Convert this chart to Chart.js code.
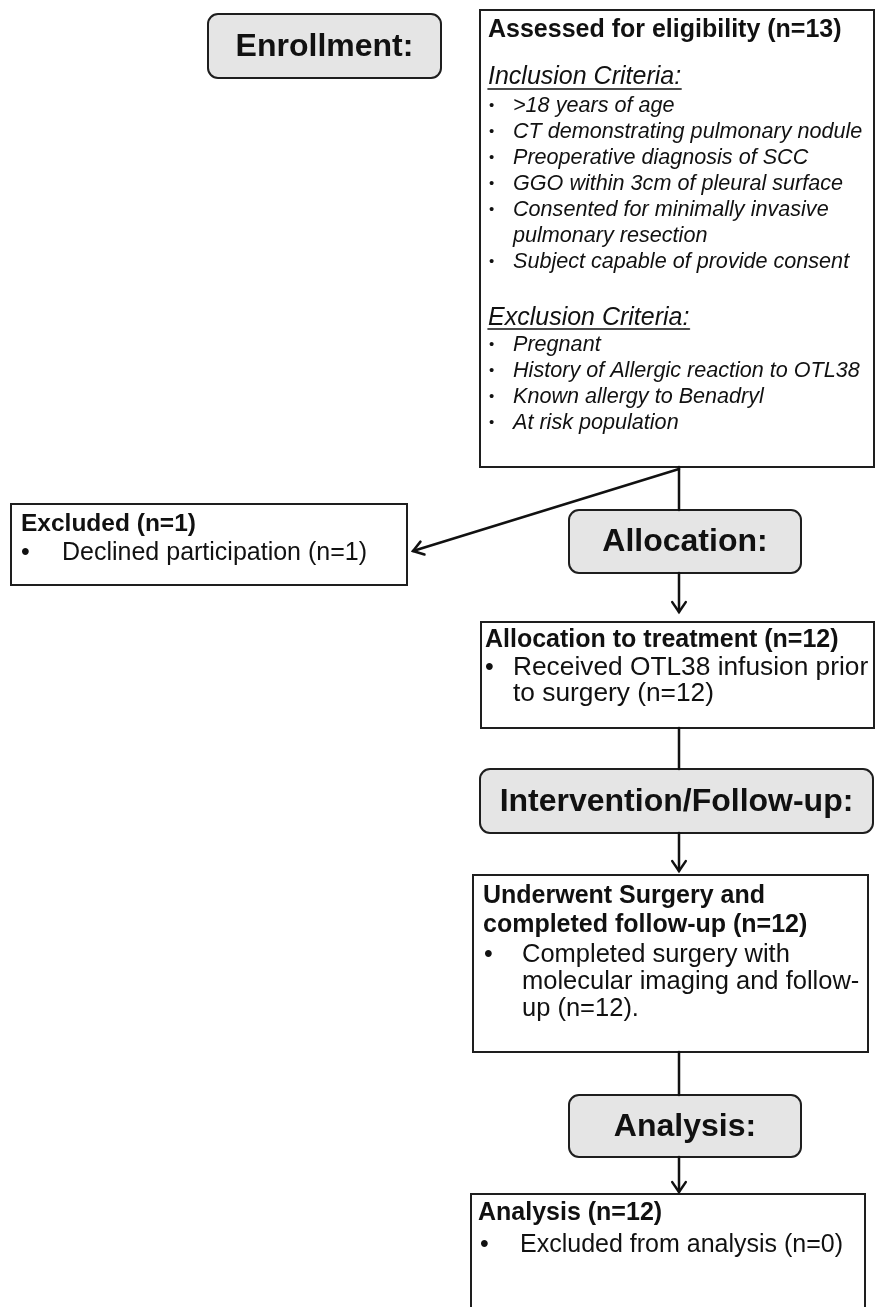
<!DOCTYPE html>
<html><head><meta charset="utf-8">
<script src="https://cdn.jsdelivr.net/npm/chart.js@4/dist/chart.umd.min.js"></script>
<style>html,body{margin:0;padding:0;background:#fff}canvas{display:block}</style>
</head><body>
<canvas id="c" width="876" height="1307"></canvas>
<script>
// ---- content (data) ----
const phaseLabels = ["Enrollment:", "Allocation:", "Intervention/Follow-up:", "Analysis:"];
const stageTitles = ["Assessed for eligibility", "Excluded", "Allocation to treatment", "Underwent Surgery and\ncompleted follow-up", "Analysis"];
const stageCounts = [13, 1, 12, 12, 12];
const inclusionCriteria = [">18 years of age", "CT demonstrating pulmonary nodule", "Preoperative diagnosis of SCC", "GGO within 3cm of pleural surface", "Consented for minimally invasive\npulmonary resection", "Subject capable of provide consent"];
const exclusionCriteria = ["Pregnant", "History of Allergic reaction to OTL38", "Known allergy to Benadryl", "At risk population"];
const excludedReasons = ["Declined participation"];
const excludedReasonCounts = [1];
const allocationNotes = ["Received OTL38 infusion prior\nto surgery"];
const followUpNotes = ["Completed surgery with\nmolecular imaging and follow-\nup"];
const analysisNotes = ["Excluded from analysis"];
const analysisNoteCounts = [0];

// ---- layout (positions / styles) ----
const FONT = "'Liberation Sans', Arial, Helvetica, sans-serif";
const phaseBoxes = [[208,14,441,78],[569,510,801,573],[480,769,873,833],[569,1095,801,1157]];
const stageBoxes = [[480,10,874,467],[11,504,407,585],[481,622,874,728],[473,875,868,1052],[471,1194,865,1340]];
const connectors = [ // [x0,y0,x1,y1,arrow]
  [679,467,679,510,false],[679,469,413,551,true],[679,573,679,612,true],
  [679,728,679,769,false],[679,833,679,871,true],[679,1052,679,1095,false],[679,1157,679,1192,true]
];

const flowPlugin = {
  id: 'flow',
  afterDatasetsDraw(chart) {
    const {ctx, scales} = chart;
    const X = v => scales.x.getPixelForValue(v);
    const Y = v => scales.y.getPixelForValue(v);
    ctx.save();
    // phase boxes
    phaseBoxes.forEach((b, i) => {
      const x0 = X(b[0]), y0 = Y(b[1]), x1 = X(b[2]), y1 = Y(b[3]);
      ctx.beginPath();
      ctx.roundRect(x0, y0, x1 - x0, y1 - y0, 10);
      ctx.fillStyle = '#e5e5e5'; ctx.fill();
      ctx.lineWidth = 2; ctx.strokeStyle = '#1e1e1e'; ctx.stroke();
      ctx.fillStyle = '#111';
      ctx.font = 'bold 32px ' + FONT;
      ctx.textAlign = 'center'; ctx.textBaseline = 'middle';
      ctx.fillText(phaseLabels[i], (x0 + x1) / 2, (y0 + y1) / 2 + 1);
    });
    // stage boxes
    stageBoxes.forEach(b => {
      const x0 = X(b[0]), y0 = Y(b[1]), x1 = X(b[2]), y1 = Y(b[3]);
      ctx.fillStyle = '#fff';
      ctx.fillRect(x0, y0, x1 - x0, y1 - y0);
      ctx.lineWidth = 2; ctx.strokeStyle = '#1e1e1e';
      ctx.strokeRect(x0, y0, x1 - x0, y1 - y0);
    });
    // connectors
    ctx.strokeStyle = '#111'; ctx.lineWidth = 2.5; ctx.lineCap = 'round';
    connectors.forEach(c => {
      const x0 = X(c[0]), y0 = Y(c[1]), x1 = X(c[2]), y1 = Y(c[3]);
      ctx.beginPath(); ctx.moveTo(x0, y0); ctx.lineTo(x1, y1); ctx.stroke();
      if (c[4]) {
        const a = Math.atan2(y1 - y0, x1 - x0), L = 12, w = 0.6;
        ctx.beginPath();
        ctx.moveTo(x1 - L * Math.cos(a - w), y1 - L * Math.sin(a - w));
        ctx.lineTo(x1, y1);
        ctx.lineTo(x1 - L * Math.cos(a + w), y1 - L * Math.sin(a + w));
        ctx.stroke();
      }
    });
    // text helper
    ctx.textAlign = 'left'; ctx.textBaseline = 'middle'; ctx.fillStyle = '#111';
    const T = (s, x, y, font, underline) => {
      ctx.font = font + ' ' + FONT;
      ctx.fillText(s, X(x), Y(y));
      if (underline) {
        const w = ctx.measureText(s).width;
        ctx.lineWidth = 1.6; ctx.strokeStyle = '#111';
        ctx.beginPath(); ctx.moveTo(X(x), Y(y) + underline); ctx.lineTo(X(x) + w, Y(y) + underline); ctx.stroke();
      }
    };
    const bullets = (items, bx, tx, ys, font, bfont) => {
      let k = 0;
      items.forEach(it => {
        it.split('\n').forEach((ln, j) => {
          if (j === 0) T('\u2022', bx, ys[k], bfont);
          T(ln, tx, ys[k], font);
          k++;
        });
      });
    };
    // Assessed box
    T(`${stageTitles[0]} (n=${stageCounts[0]})`, 488, 30, 'bold 25px');
    T('Inclusion Criteria:', 488, 77, 'italic 25px', 12);
    bullets(inclusionCriteria, 489, 513, [106,132,158,184,210,236,262], 'italic 21.6px', '15px');
    T('Exclusion Criteria:', 488, 318, 'italic 25px', 11);
    bullets(exclusionCriteria, 489, 513, [345,371,397,423], 'italic 21.6px', '15px');
    // Excluded box
    T(`${stageTitles[1]} (n=${stageCounts[1]})`, 21, 524, 'bold 24.5px');
    bullets(excludedReasons.map((s, i) => `${s} (n=${excludedReasonCounts[i]})`), 21, 62, [553], '25px', '25px');
    // Allocation to treatment
    T(`${stageTitles[2]} (n=${stageCounts[2]})`, 485, 640, 'bold 25px');
    bullets(allocationNotes.map(s => `${s} (n=${stageCounts[2]})`), 485, 513, [668,694], '26.3px', '25px');
    // Underwent surgery
    const ft = stageTitles[3].split('\n');
    T(ft[0], 483, 896, 'bold 25px');
    T(`${ft[1]} (n=${stageCounts[3]})`, 483, 925, 'bold 25px');
    bullets(followUpNotes.map(s => `${s} (n=${stageCounts[3]}).`), 484, 522, [955,982,1009], '25.5px', '25px');
    // Analysis
    T(`${stageTitles[4]} (n=${stageCounts[4]})`, 478, 1213, 'bold 25px');
    bullets(analysisNotes.map((s, i) => `${s} (n=${analysisNoteCounts[i]})`), 480, 520, [1245], '25px', '25px');
    ctx.restore();
  }
};

new Chart(document.getElementById('c'), {
  type: 'scatter',
  data: { datasets: [{ data: [], pointRadius: 0 }] },
  options: {
    responsive: false, animation: false, devicePixelRatio: 1,
    layout: { padding: 0 },
    plugins: { legend: { display: false }, tooltip: { enabled: false } },
    scales: {
      x: { type: 'linear', min: 0, max: 876, display: false },
      y: { type: 'linear', min: 0, max: 1307, reverse: true, display: false }
    }
  },
  plugins: [flowPlugin]
});
</script>
</body></html>
